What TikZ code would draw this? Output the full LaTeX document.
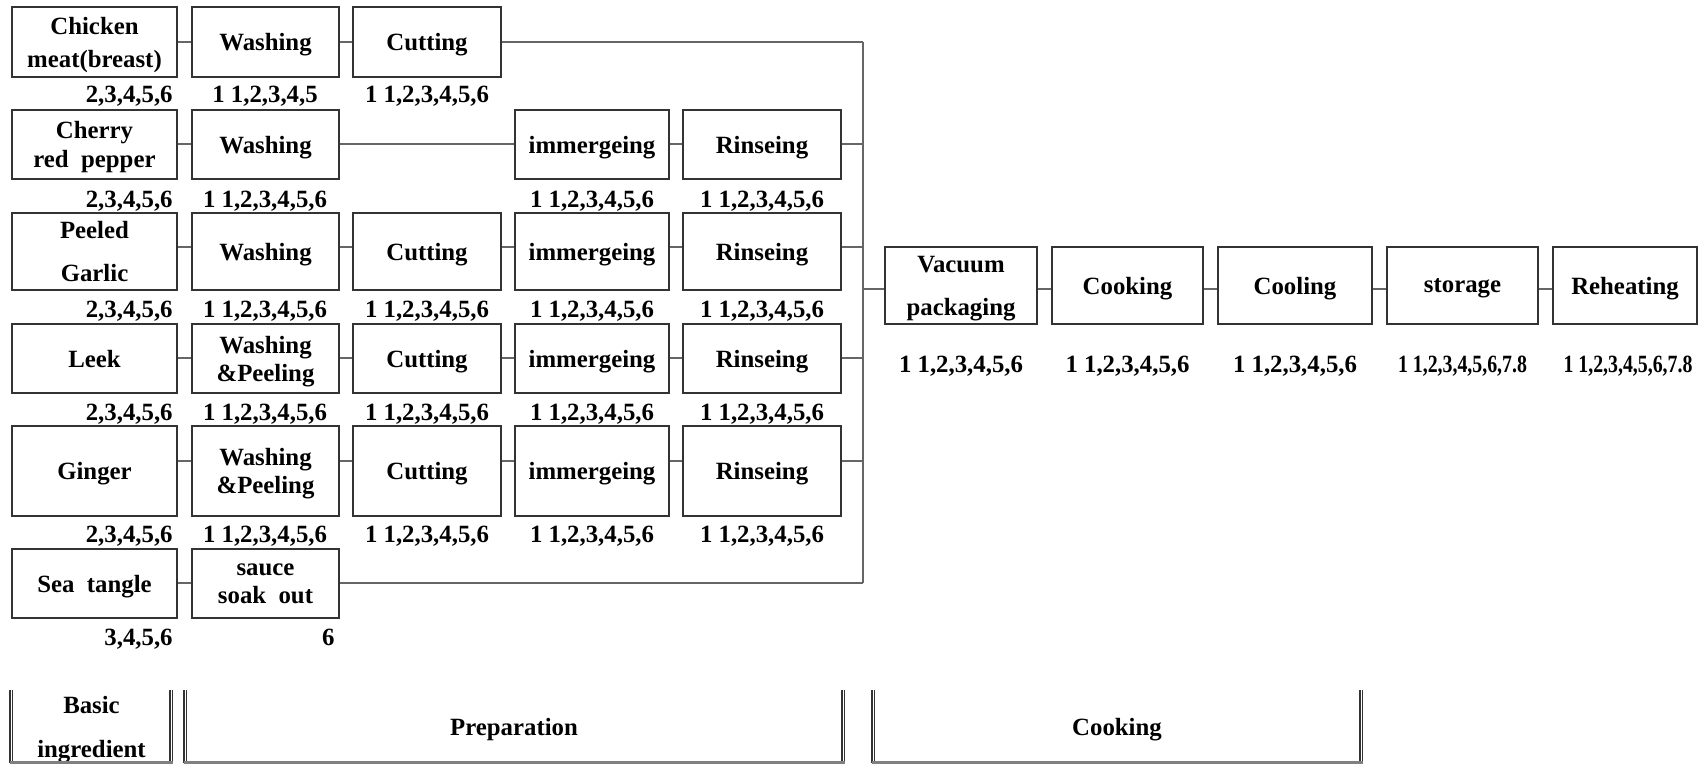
\documentclass[tikz,border=0pt]{standalone}
\usepackage{fontspec}
\setmainfont{Liberation Serif}
\begin{document}
\begin{tikzpicture}[x=0.5pt,y=-0.5pt,
  txt/.style={font=\bfseries\fontsize{12.4}{14}\selectfont},
  box/.style={txt,draw=black!80,line width=0.55pt,inner sep=0pt,align=center,text depth=0pt},
  lbl/.style={txt,inner sep=0pt},
  con/.style={draw=black!60,line width=0.55pt},
  dbl/.style={draw=black!80,line width=0.7pt},
  botl/.style={draw=black!50,line width=1.2pt},
  w1/.style={minimum width=82.5pt},
  w2/.style={minimum width=73.5pt},
  w3/.style={minimum width=74pt},
  w4/.style={minimum width=77pt},
  w5/.style={minimum width=79pt},
  h1/.style={minimum height=35pt},
  h2/.style={minimum height=34.5pt},
  h3/.style={minimum height=38.5pt},
  h5/.style={minimum height=45pt}]
\useasboundingbox (0,0) rectangle (1698,765);

% row 1
\node[box,w1,h1] (a1) at (94.5,42) {Chicken\\[2.5pt]meat(breast)};
\node[box,w2,h1] (a2) at (265.5,42) {Washing};
\node[box,w3,h1] (a3) at (427,42) {Cutting};
% row 2
\node[box,w1,h2] (b1) at (94.5,144.5) {Cherry\\[0.5pt]red\ \ pepper};
\node[box,w2,h2] (b2) at (265.5,144.5) {Washing};
\node[box,w4,h2] (b4) at (592,144.5) {immergeing};
\node[box,w5,h2] (b5) at (762,144.5) {Rinseing};
% row 3
\node[box,w1,h3] (c1) at (94.5,251.5) {Peeled\\[7.5pt]Garlic};
\node[box,w2,h3] (c2) at (265.5,251.5) {Washing};
\node[box,w3,h3] (c3) at (427,251.5) {Cutting};
\node[box,w4,h3] (c4) at (592,251.5) {immergeing};
\node[box,w5,h3] (c5) at (762,251.5) {Rinseing};
% row 4
\node[box,w1,h2] (d1) at (94.5,358.5) {Leek};
\node[box,w2,h2] (d2) at (265.5,358.5) {Washing\\\&Peeling};
\node[box,w3,h2] (d3) at (427,358.5) {Cutting};
\node[box,w4,h2] (d4) at (592,358.5) {immergeing};
\node[box,w5,h2] (d5) at (762,358.5) {Rinseing};
% row 5
\node[box,w1,h5] (e1) at (94.5,471) {Ginger};
\node[box,w2,h5] (e2) at (265.5,471) {Washing\\\&Peeling};
\node[box,w3,h5] (e3) at (427,471) {Cutting};
\node[box,w4,h5] (e4) at (592,471) {immergeing};
\node[box,w5,h5] (e5) at (762,471) {Rinseing};
% row 6
\node[box,w1,h2] (f1) at (94.5,583.5) {Sea\ \ tangle};
\node[box,w2,h2] (f2) at (265.5,583.5) {sauce\\soak\ \ out};
% cooking row
\node[box,h3,minimum width=76pt] (v1) at (961,285.5) {Vacuum\\[7.5pt]packaging};
\node[box,h3,minimum width=75.5pt] (v2) at (1127.5,285.5) {Cooking};
\node[box,h3,minimum width=77pt] (v3) at (1295,285.5) {Cooling};
\node[box,h3,minimum width=75.5pt] (v4) at (1462.5,285.5) {storage};
\node[box,h3,minimum width=72pt] (v5) at (1625,285.5) {Reheating};

% labels
\node[lbl,anchor=base east] (la1) at (173,103) {2,3,4,5,6};
\node[lbl,anchor=base] (la2) at (265,103) {1 1,2,3,4,5};
\node[lbl,anchor=base] (la3) at (427,103) {1 1,2,3,4,5,6};
\node[lbl,anchor=base east] (lb1) at (173,207) {2,3,4,5,6};
\node[lbl,anchor=base] (lb2) at (265,207) {1 1,2,3,4,5,6};
\node[lbl,anchor=base] (lb4) at (592,207) {1 1,2,3,4,5,6};
\node[lbl,anchor=base] (lb5) at (762,207) {1 1,2,3,4,5,6};
\node[lbl,anchor=base east] (lc1) at (173,317) {2,3,4,5,6};
\node[lbl,anchor=base] (lc2) at (265,317) {1 1,2,3,4,5,6};
\node[lbl,anchor=base] (lc3) at (427,317) {1 1,2,3,4,5,6};
\node[lbl,anchor=base] (lc4) at (592,317) {1 1,2,3,4,5,6};
\node[lbl,anchor=base] (lc5) at (762,317) {1 1,2,3,4,5,6};
\node[lbl,anchor=base east] (ld1) at (173,420) {2,3,4,5,6};
\node[lbl,anchor=base] (ld2) at (265,420) {1 1,2,3,4,5,6};
\node[lbl,anchor=base] (ld3) at (427,420) {1 1,2,3,4,5,6};
\node[lbl,anchor=base] (ld4) at (592,420) {1 1,2,3,4,5,6};
\node[lbl,anchor=base] (ld5) at (762,420) {1 1,2,3,4,5,6};
\node[lbl,anchor=base east] (le1) at (173,542) {2,3,4,5,6};
\node[lbl,anchor=base] (le2) at (265,542) {1 1,2,3,4,5,6};
\node[lbl,anchor=base] (le3) at (427,542) {1 1,2,3,4,5,6};
\node[lbl,anchor=base] (le4) at (592,542) {1 1,2,3,4,5,6};
\node[lbl,anchor=base] (le5) at (762,542) {1 1,2,3,4,5,6};
\node[lbl,anchor=base east] (lf1) at (173,645) {3,4,5,6};
\node[lbl,anchor=base east] (lf2) at (335,645) {6};
\node[lbl,anchor=base] (lv1) at (961,372) {1 1,2,3,4,5,6};
\node[lbl,anchor=base] (lv2) at (1127.5,372) {1 1,2,3,4,5,6};
\node[lbl,anchor=base] (lv3) at (1295,372) {1 1,2,3,4,5,6};
\node[lbl,anchor=base] (lv4) at (1462.5,372) {\scalebox{0.8}[1]{1 1,2,3,4,5,6,7.8}};
\node[lbl,anchor=base] (lv5) at (1628,372) {\scalebox{0.8}[1]{1 1,2,3,4,5,6,7.8}};

% connector rows
\coordinate (y1) at (0,42);
\coordinate (y2) at (0,144);
\coordinate (y3) at (0,247);
\coordinate (y4) at (0,358);
\coordinate (y5) at (0,461);
\coordinate (y6) at (0,583);
\coordinate (yv) at (0,289);
\coordinate (bus) at (863,42);

\draw[con] (a1.east|-y1) -- (a2.west|-y1);
\draw[con] (a2.east|-y1) -- (a3.west|-y1);
\draw[con] (a3.east|-y1) -- (bus);
\draw[con] (b1.east|-y2) -- (b2.west|-y2);
\draw[con] (b2.east|-y2) -- (b4.west|-y2);
\draw[con] (b4.east|-y2) -- (b5.west|-y2);
\draw[con] (b5.east|-y2) -- (bus|-y2);
\draw[con] (c1.east|-y3) -- (c2.west|-y3);
\draw[con] (c2.east|-y3) -- (c3.west|-y3);
\draw[con] (c3.east|-y3) -- (c4.west|-y3);
\draw[con] (c4.east|-y3) -- (c5.west|-y3);
\draw[con] (c5.east|-y3) -- (bus|-y3);
\draw[con] (d1.east|-y4) -- (d2.west|-y4);
\draw[con] (d2.east|-y4) -- (d3.west|-y4);
\draw[con] (d3.east|-y4) -- (d4.west|-y4);
\draw[con] (d4.east|-y4) -- (d5.west|-y4);
\draw[con] (d5.east|-y4) -- (bus|-y4);
\draw[con] (e1.east|-y5) -- (e2.west|-y5);
\draw[con] (e2.east|-y5) -- (e3.west|-y5);
\draw[con] (e3.east|-y5) -- (e4.west|-y5);
\draw[con] (e4.east|-y5) -- (e5.west|-y5);
\draw[con] (e5.east|-y5) -- (bus|-y5);
\draw[con] (f1.east|-y6) -- (f2.west|-y6);
\draw[con] (f2.east|-y6) -- (bus|-y6);
\draw[con] (bus) -- (bus|-y6);
\draw[con] (bus|-yv) -- (v1.west|-yv);
\draw[con] (v1.east|-yv) -- (v2.west|-yv);
\draw[con] (v2.east|-yv) -- (v3.west|-yv);
\draw[con] (v3.east|-yv) -- (v4.west|-yv);
\draw[con] (v4.east|-yv) -- (v5.west|-yv);

% legend
\node[lbl,align=center] (g1) at (91.5,730) {Basic\\[8pt]ingredient};
\node[lbl] (g2) at (514,730) {Preparation};
\node[lbl] (g3) at (1117,730) {Cooking};
\foreach \x in {10,12.7,170,172.7,184,186.7,842,844.6,872,874.6,1360,1362.7}
  \draw[dbl] (\x,690) -- (\x,763);
\draw[botl] (10,762.5) -- (172.7,762.5);
\draw[botl] (184,762.5) -- (844.6,762.5);
\draw[botl] (872,762.5) -- (1362.7,762.5);
\end{tikzpicture}
\end{document}
